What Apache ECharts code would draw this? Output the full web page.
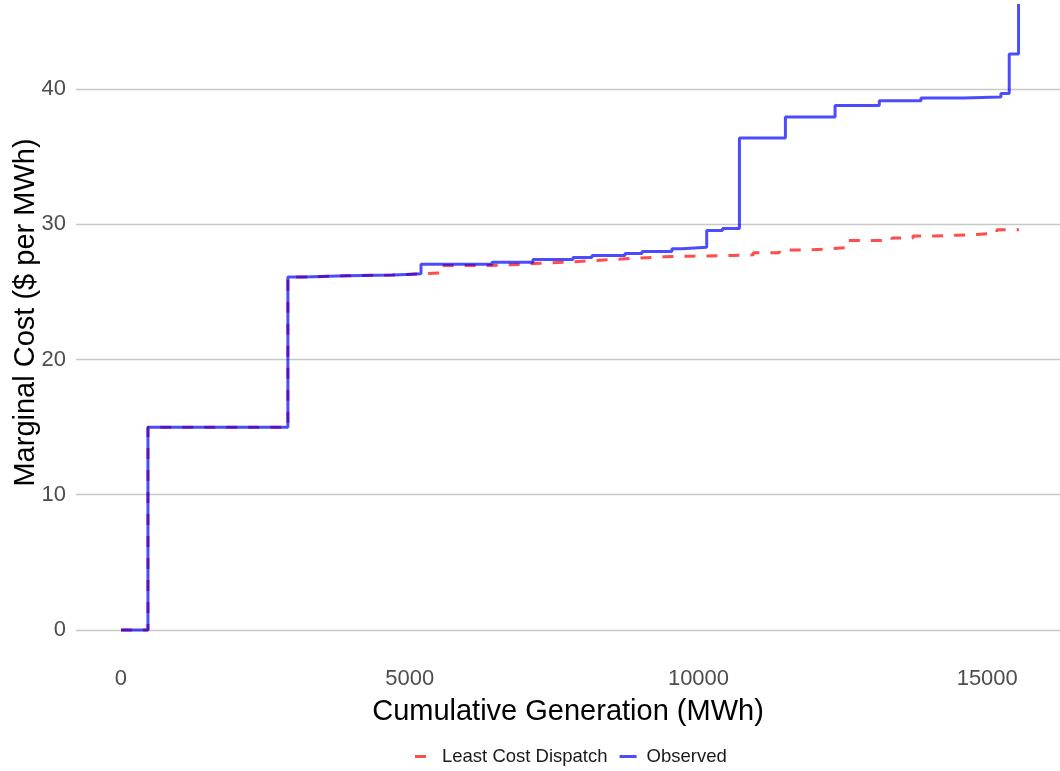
<!DOCTYPE html>
<html>
<head>
<meta charset="utf-8">
<title>Marginal cost curve</title>
<script src="https://cdn.jsdelivr.net/npm/echarts@6/dist/echarts.min.js"></script>
<style>
  html, body { margin: 0; padding: 0; background: #ffffff; }
  #chart { width: 1060px; height: 771px; }
</style>
</head>
<body>
<div id="chart"></div>
<script>
  // observed dispatch curve (step starts, MWh / $ per MWh)
  const observedX = [0, 467, 2890, 3170, 3900, 4700, 4950, 5195, 6424, 7134, 7827, 8156, 8727, 9022, 9541, 9714,
    10142, 10415, 10709, 11505, 12365, 13131, 13853, 14585, 15237, 15381, 15542]
  const observedY = [0, 15.0, 26.1, 26.2, 26.25, 26.3, 26.35, 27.05, 27.2, 27.4, 27.55, 27.7, 27.85, 28.0, 28.2, 28.3,
    29.55, 29.7, 36.4, 37.95, 38.8, 39.15, 39.35, 39.43, 39.68, 42.6, 46.3]

  // least cost dispatch curve
  const leastCostX = [0, 467, 2890, 3170, 3900, 4700, 4950, 5524, 6400, 6950, 7134, 7700, 8100, 8500, 8900, 9400,
    9900, 10600, 10950, 11400, 11900, 12300, 12590, 13350, 13714, 14100, 14476, 14822, 15168, 15550]
  const leastCostY = [0, 15.0, 26.1, 26.2, 26.25, 26.3, 26.4, 26.95, 27.05, 27.1, 27.2, 27.3, 27.4, 27.5, 27.6, 27.65,
    27.7, 27.75, 27.9, 28.1, 28.2, 28.3, 28.8, 29.0, 29.15, 29.2, 29.25, 29.35, 29.6, 29.6]

  const xTicks = [0, 5000, 10000, 15000]
  const yTicks = [0, 10, 20, 30, 40]

  const pair = (xs, ys) => xs.map((x, i) => [x, ys[i]])

  const chart = echarts.init(document.getElementById('chart'))
  const option = {
    animation: false,
    backgroundColor: '#ffffff',
    textStyle: { fontFamily: '"Liberation Sans", Arial, sans-serif' },
    grid: { left: 76, right: 0, top: 0, bottom: 110, outerBoundsMode: 'none' },
    legend: {
      left: 410,
      top: 742,
      itemWidth: 17,
      itemHeight: 3,
      itemGap: 12,
      textStyle: { fontSize: 18.5, color: '#1a1a1a', padding: [0, 0, 0, 5] },
      data: [
        // one dash of the dashed key, bbox kept at full key width
        { name: 'Least Cost Dispatch', icon: 'path://M0 0H11V3H0Z M16.95 0H17V0.05H16.95Z' },
        { name: 'Observed', icon: 'path://M0 0H17V3H0Z' }
      ]
    },
    xAxis: {
      type: 'value',
      min: -779,
      max: 16260,
      name: 'Cumulative Generation (MWh)',
      nameLocation: 'middle',
      nameGap: 36,
      nameMoveOverlap: false,
      nameTextStyle: { fontSize: 29, color: '#000000' },
      axisLine: { show: false },
      axisTick: { show: false, customValues: xTicks },
      splitLine: { show: false },
      axisLabel: {
        customValues: xTicks,
        fontSize: 22,
        color: '#4d4d4d',
        margin: 7,
        formatter: (v) => String(v)
      }
    },
    yAxis: {
      type: 'value',
      min: -2.3,
      max: 46.6,
      name: 'Marginal Cost ($ per MWh)',
      nameLocation: 'middle',
      nameGap: 36,
      nameMoveOverlap: false,
      nameTextStyle: { fontSize: 29, color: '#000000', padding: [0, 0, 0, 36] },
      axisLine: { show: false },
      axisTick: { show: false, customValues: yTicks },
      axisLabel: { customValues: yTicks, fontSize: 22, color: '#4d4d4d', margin: 10 },
      splitLine: { show: true, lineStyle: { color: '#c8c8c8', width: 1.4 } }
    },
    series: [
      {
        name: 'Least Cost Dispatch',
        type: 'line',
        step: 'end',
        symbol: 'none',
        data: pair(leastCostX, leastCostY),
        itemStyle: { color: '#ff0000', opacity: 0.7 },
        lineStyle: { color: '#ff0000', width: 3, opacity: 0.7, type: [11, 11] }
      },
      {
        name: 'Observed',
        type: 'line',
        step: 'end',
        symbol: 'none',
        data: pair(observedX, observedY),
        itemStyle: { color: '#0000ff', opacity: 0.7 },
        lineStyle: { color: '#0000ff', width: 3, opacity: 0.7 }
      }
    ]
  }
  chart.setOption(option)
</script>
</body>
</html>
